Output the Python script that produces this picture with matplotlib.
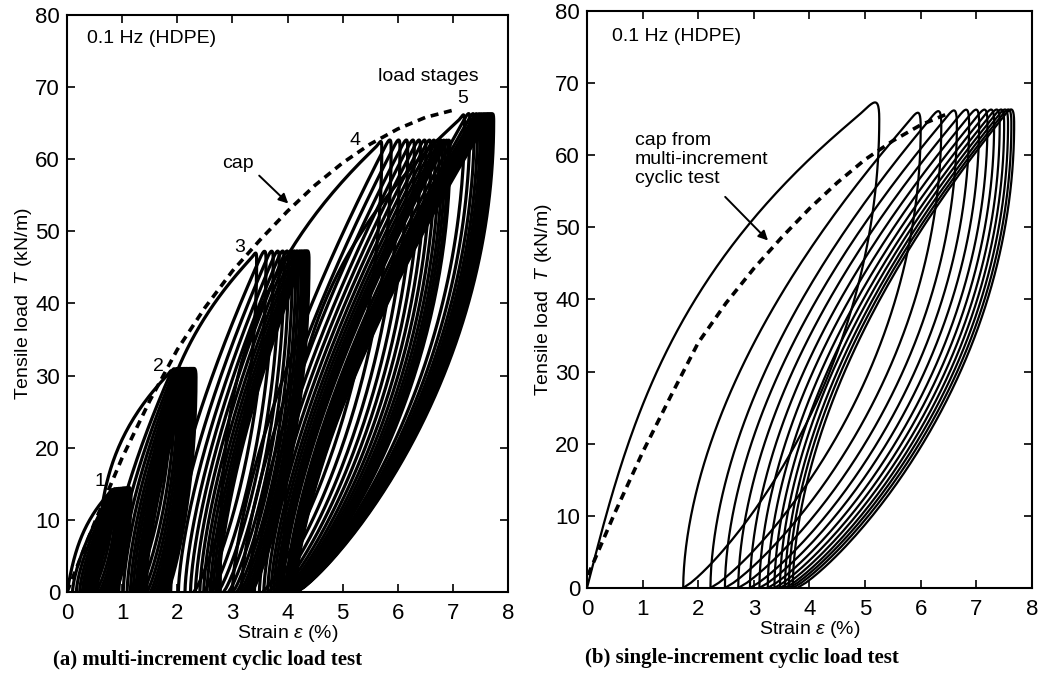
"""Cyclic load tests on HDPE geogrid: multi-increment vs single-increment loops."""
import matplotlib
matplotlib.use("Agg")
import matplotlib.pyplot as plt
import numpy as np

plt.rcParams["font.family"] = ["Liberation Sans", "DejaVu Sans"]
plt.rcParams["mathtext.fontset"] = "custom"
plt.rcParams["mathtext.it"] = "Liberation Sans:italic"
plt.rcParams["mathtext.rm"] = "Liberation Sans"

# (a) multi-increment test: 5 load stages, 14 cycles each
STAGE_LOAD_A = [14.5, 31.0, 47.3, 62.8, 66.5]
TOP_STRAIN_A = [
    [0.78, 0.83, 0.87, 0.90, 0.93, 0.96, 0.98, 1.00, 1.02, 1.04, 1.06, 1.07, 1.08, 1.10],
    [1.85, 1.91, 1.96, 2.00, 2.04, 2.08, 2.11, 2.14, 2.17, 2.20, 2.22, 2.24, 2.26, 2.28],
    [3.38, 3.55, 3.68, 3.79, 3.88, 3.96, 4.03, 4.09, 4.14, 4.19, 4.23, 4.27, 4.30, 4.33],
    [5.65, 5.82, 5.98, 6.12, 6.24, 6.35, 6.45, 6.54, 6.62, 6.69, 6.75, 6.80, 6.85, 6.89],
    [7.15, 7.25, 7.33, 7.39, 7.44, 7.48, 7.52, 7.55, 7.58, 7.60, 7.62, 7.64, 7.66, 7.68],
]
# strain where each reloading starts (T = 0)
START_STRAIN_A = [
    [0.00, 0.10, 0.17, 0.23, 0.28, 0.32, 0.36, 0.39, 0.42, 0.45, 0.48, 0.50, 0.52, 0.54],
    [0.56, 0.72, 0.84, 0.94, 1.02, 1.09, 1.15, 1.20, 1.25, 1.29, 1.33, 1.36, 1.39, 1.42],
    [1.45, 1.70, 1.88, 2.02, 2.14, 2.24, 2.33, 2.41, 2.48, 2.54, 2.60, 2.65, 2.70, 2.74],
    [2.78, 3.00, 3.16, 3.29, 3.40, 3.49, 3.57, 3.64, 3.70, 3.75, 3.80, 3.84, 3.88, 3.91],
    [3.94, 3.97, 4.00, 4.02, 4.04, 4.06, 4.07, 4.08, 4.09, 4.10, 4.11, 4.12, 4.13, 4.14],
]
# strain where each unloading ends (T = 0)
END_STRAIN_A = [
    [0.45, 0.52, 0.58, 0.63, 0.67, 0.70, 0.73, 0.76, 0.78, 0.80, 0.82, 0.84, 0.86, 0.88],
    [1.20, 1.30, 1.38, 1.45, 1.51, 1.56, 1.61, 1.65, 1.69, 1.72, 1.75, 1.78, 1.80, 1.82],
    [2.30, 2.48, 2.62, 2.74, 2.84, 2.93, 3.01, 3.08, 3.14, 3.19, 3.24, 3.28, 3.32, 3.35],
    [3.55, 3.66, 3.75, 3.82, 3.88, 3.93, 3.97, 4.00, 4.03, 4.05, 4.07, 4.09, 4.10, 4.11],
    [4.12, 4.13, 4.13, 4.14, 4.14, 4.14, 4.15, 4.15, 4.15, 4.15, 4.16, 4.16, 4.16, 4.17],
]

# (b) single-increment test (unloading ends where the next reloading starts)
START_STRAIN_B = [0.0, 1.73, 2.22, 2.48, 2.72, 2.93, 3.10, 3.25, 3.37,
                  3.47, 3.56, 3.63, 3.70, 3.78]
TOP_STRAIN_B = [5.03, 5.85, 6.22, 6.50, 6.72, 6.90, 7.05, 7.17, 7.27,
                7.35, 7.42, 7.48, 7.53]
TOP_LOAD_B = [68.0, 66.4, 66.6, 66.7, 66.8, 66.8, 66.8, 66.8, 66.8,
              66.8, 66.8, 66.8, 66.8]

# cap curve (envelope of the stage peaks)
CAP_E_A = [0.0, 0.5, 1.0, 1.5, 2.0, 2.5, 3.0, 3.5, 4.0, 4.5, 5.0, 5.5,
           6.0, 6.5, 7.0]
CAP_T_A = [0.0, 9.6, 18.6, 26.5, 33.6, 39.4, 44.5, 48.8, 52.8, 56.4, 59.5,
           62.1, 64.2, 65.8, 66.8]
CAP_E_B = [0.02, 0.5, 1.0, 1.5, 2.0, 2.5, 3.0, 3.5, 4.0, 4.5, 5.0, 5.5,
           6.0, 6.5]
CAP_T_B = [1.8, 10.4, 18.8, 26.5, 34.0, 39.5, 44.3, 48.6, 52.6, 56.2, 59.4,
           62.0, 64.2, 65.8]


def loop(e0, e_top, t_top, e1, c, m, h, dw):
    """reload branch (e0,0)->top, rounded cap, unload branch ->(e1,0)"""
    t = np.linspace(0, 1, 90)
    tl = t_top - h
    xl, xu = e_top - dw / 2, e_top + dw / 2
    le = e0 + (xl - e0) * (c * t + (1 - c) * t ** m)
    lt = tl * t
    slope = (xl - e0) * (c + (1 - c) * m) / tl
    k = min(4 * h / 3, 0.7 * dw / slope)
    s = np.linspace(0, 1, 30)[:, None]
    p0 = np.array([xl, tl])
    p1 = np.array([xl + k * slope, tl + k])
    p2 = np.array([xu, tl + 4 * h / 3])
    p3 = np.array([xu, tl])
    bz = ((1 - s) ** 3 * p0 + 3 * (1 - s) ** 2 * s * p1
          + 3 * (1 - s) * s ** 2 * p2 + s ** 3 * p3)
    v = np.linspace(1, 0, 90)
    ue = e1 + (xu - e1) * (1 - (1 - v) ** 2) ** 0.85
    ut = tl * v
    return (np.concatenate([le, bz[:, 0], ue]),
            np.concatenate([lt, bz[:, 1], ut]))


def style(ax):
    ax.set_xlim(0, 8)
    ax.set_ylim(0, 80)
    ax.set_xticks(range(9))
    ax.set_yticks(range(0, 81, 10))
    ax.tick_params(direction="in", top=True, right=True, length=6, width=1.2,
                   labelsize=16, pad=5)
    ax.tick_params(axis="x", pad=8)
    for sp in ax.spines.values():
        sp.set_linewidth(1.5)
    ax.set_xlabel(r"Strain $\varepsilon$ (%)", fontsize=14, labelpad=-1)
    ax.set_ylabel(r"Tensile load  $T$ (kN/m)", fontsize=14, labelpad=1)


fig = plt.figure(figsize=(10.57, 6.77), dpi=100)
ax_a = fig.add_axes([0.0634, 0.1256, 0.4172, 0.8522])
ax_b = fig.add_axes([0.5553, 0.1315, 0.4210, 0.8523])

# ---- (a)
for si, load in enumerate(STAGE_LOAD_A):
    for j, top in enumerate(TOP_STRAIN_A[si]):
        if si == 0 and j == 0:
            c, m = 0.45, 3.0      # virgin loading
        elif j == 0:
            c, m = 0.0, 3.0       # first loading to a new stage
        else:
            c, m = 0.0, 1.5
        x, y = loop(START_STRAIN_A[si][j], top, load, END_STRAIN_A[si][j],
                    c, m, 1.2, 0.12)
        ax_a.plot(x, y, color="black", lw=2.3, solid_joinstyle="round")
ax_a.plot(CAP_E_A, CAP_T_A, color="black", lw=2.6, dashes=(2.2, 1.6), zorder=5)
for lab, ex, ty in zip(["1", "2", "3", "4", "5"],
                       [0.6, 1.65, 3.14, 5.22, 7.17],
                       [15.3, 31.2, 47.8, 62.6, 68.4]):
    ax_a.text(ex, ty, lab, fontsize=14, ha="center", va="center", zorder=6)
ax_a.text(0.36, 76.8, "0.1 Hz (HDPE)", fontsize=14, va="center")
ax_a.text(6.55, 71.5, "load stages", fontsize=14, ha="center", va="center")
ax_a.text(3.1, 59.4, "cap", fontsize=14, ha="center", va="center")
ax_a.annotate("", xy=(4.05, 53.6), xytext=(3.45, 58.0),
              arrowprops=dict(arrowstyle="-|>", color="black", lw=1.4,
                              mutation_scale=14))
style(ax_a)

# ---- (b)
for i, (top, load) in enumerate(zip(TOP_STRAIN_B, TOP_LOAD_B)):
    if i == 0:
        x, y = loop(START_STRAIN_B[0], top, load, START_STRAIN_B[1],
                    0.45, 3.0, 3.0, 0.45)
    else:
        x, y = loop(START_STRAIN_B[i], top, load, START_STRAIN_B[i + 1],
                    0.0, 1.8, 2.5, 0.3)
    ax_b.plot(x, y, color="black", lw=1.6, solid_joinstyle="round")
ax_b.plot(CAP_E_B, CAP_T_B, color="black", lw=2.6, dashes=(2.2, 1.6), zorder=5)
ax_b.text(0.45, 76.4, "0.1 Hz (HDPE)", fontsize=14, va="center")
ax_b.text(0.86, 59.4, "cap from\nmulti-increment\ncyclic test", fontsize=14,
          va="center", linespacing=1.15)
ax_b.annotate("", xy=(3.29, 47.9), xytext=(2.45, 54.5),
              arrowprops=dict(arrowstyle="-|>", color="black", lw=1.4,
                              mutation_scale=14))
style(ax_b)

fig.text(53 / 1057, 1 - 660 / 677, "(a) multi-increment cyclic load test",
         fontfamily="Liberation Serif", fontweight="bold", fontsize=15,
         va="center")
fig.text(585 / 1057, 1 - 658 / 677, "(b) single-increment cyclic load test",
         fontfamily="Liberation Serif", fontweight="bold", fontsize=15,
         va="center")

fig.savefig("out.png", dpi=100)
